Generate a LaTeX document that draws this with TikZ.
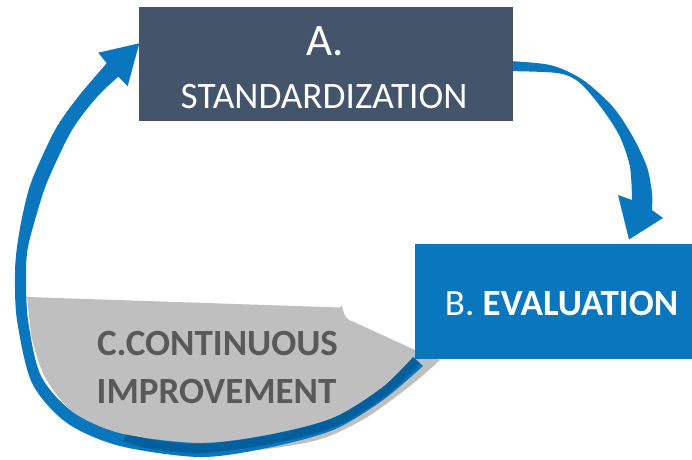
\documentclass[tikz,border=0pt]{standalone}
\usepackage{fontspec}
\setmainfont{Carlito}
\definecolor{bluemain}{HTML}{0A76BD}
\definecolor{bluedark}{HTML}{005F9C}
\definecolor{slate}{HTML}{44546A}
\definecolor{grayfill}{HTML}{BFBFBF}
\definecolor{graytext}{HTML}{595959}
\newcommand\myleftarc{(423,366) -- plot[smooth] coordinates {(423,366) (383,400) (333,430) (267,448) (200,457) (120,446) (67,423) (32,383) (17,320) (15,275) (17,247) (23,213) (32,180) (55,130) (78,97) (106.7,63.3)} -- (98.3,52.7) -- (tipA) -- (127.7,86) -- (118.3,76.7) -- plot[smooth] coordinates {(118.3,76.7) (97,97) (72,130) (48,180) (37,213) (28,247) (26,273) (28,320) (41,376) (74,413) (123,434) (200,443) (267,435) (333,418) (383,387) (413,357)} -- cycle}
\begin{document}
\begin{tikzpicture}[x=1pt,y=-1pt,
  boxstyle/.style={draw=none, inner sep=0pt, outer sep=0pt},
  lbl/.style={anchor=base, inner sep=0pt, outer sep=0pt}]
\useasboundingbox (0,0) rectangle (692,459);
\coordinate (tipA) at (139.3,43.3);
\coordinate (tipB) at (629,239.5);
% gray segment
\fill[grayfill] (27,297) -- (340,307.5) .. controls (341,305) and (342,305) .. (343,310) .. controls (345,318) and (348,320) .. (354,322) -- (415,350) -- (440,360) -- plot[smooth,tension=0.6] coordinates {(440,360) (405,390) (355,424) (300,444) (200,453) (120,440) (75,414) (45,377) (31,335)} -- cycle;
% left curved arrow (C -> A)
\fill[bluemain] \myleftarc;
\begin{scope}
\clip \myleftarc;
\draw[bluedark, line width=9pt] plot[smooth] coordinates {(422,356) (417,360.6) (383,392.2) (333,422.8) (267,440.2) (200,448.6) (150,444) (125,437)};
\end{scope}
% right curved arrow (A -> B)
\fill[bluemain] (500,60.5) -- plot[smooth] coordinates {(500,60.5) (550,65) (583,80) (613,107) (633,137) (647,167) (652,193) (652,210)} -- (663,218) -- (tipB) -- (618,195) -- (632,200) -- plot[smooth] coordinates {(632,200) (630,167) (620,137) (603,110) (580,83) (557,73) (500,71)} -- cycle;
% boxes
\node[boxstyle, fill=slate, minimum width=374pt, minimum height=114pt] (A) at (326,64) {};
\node[boxstyle, fill=bluemain, minimum width=277pt, minimum height=115pt] (B) at (553.5,301.5) {};
% labels
\node[lbl, text=white] (Atitle) at (325,55) {\fontsize{45}{45}\selectfont A.};
\node[lbl, text=white] (Asub) at (324,108) {\fontsize{37.3}{38}\selectfont STANDARDIZATION};
\node[lbl, text=white] (Btext) at (561.5,315) {\fontsize{37}{38}\selectfont B. \textbf{EVALUATION}};
\node[lbl, text=graytext] (C1) at (217.5,355) {\fontsize{37}{37}\selectfont\bfseries C.CONTINUOUS};
\node[lbl, text=graytext] (C2) at (216.5,403) {\fontsize{37}{37}\selectfont\bfseries IMPROVEMENT};
\end{tikzpicture}
\end{document}
